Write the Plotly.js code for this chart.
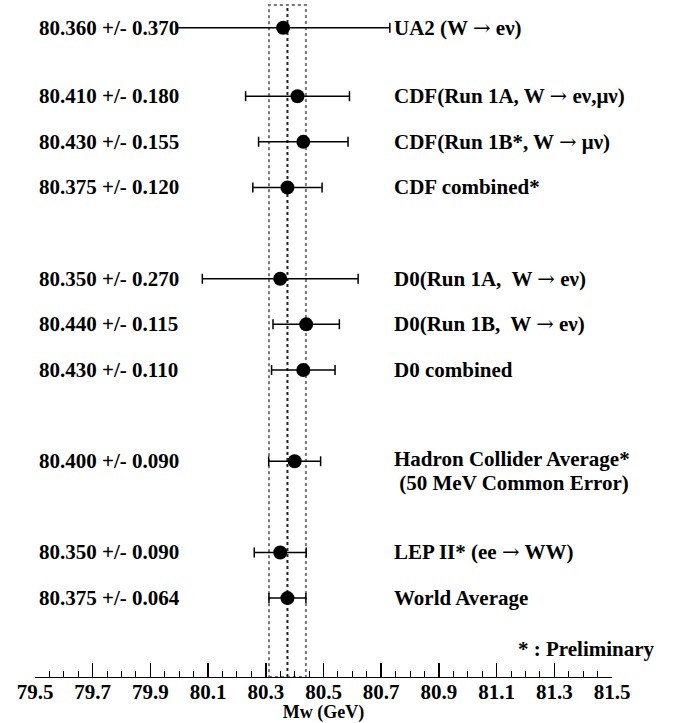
<!DOCTYPE html>
<html>
<head>
<meta charset="utf-8">
<script src="https://cdn.plot.ly/plotly-3.0.1.min.js"></script>
<style>html,body{margin:0;padding:0;background:#fff;}#chart{width:681px;height:723px;}</style>
</head>
<body>
<div id="chart"></div>
<script>
// ---- data ----
const ARROW = "<span style='font-family:DejaVu Serif;font-weight:normal'>\u2192</span>";
const labels = [
  "UA2 (W " + ARROW + " e\u03bd)",
  "CDF(Run 1A, W " + ARROW + " e\u03bd,\u03bc\u03bd)",
  "CDF(Run 1B*, W " + ARROW + " \u03bc\u03bd)",
  "CDF combined*",
  "D0(Run 1A,  W " + ARROW + " e\u03bd)",
  "D0(Run 1B,  W " + ARROW + " e\u03bd)",
  "D0 combined",
  "Hadron Collider Average*<br> (50 MeV Common Error)",
  "LEP II* (ee " + ARROW + " WW)",
  "World Average"
];
const groups = ["UA2","CDF","CDF","CDF","D0","D0","D0","HCA","LEP","WA"];
const mass = [80.360, 80.410, 80.430, 80.375, 80.350, 80.440, 80.430, 80.400, 80.350, 80.375];
const err  = [0.370, 0.180, 0.155, 0.120, 0.270, 0.115, 0.110, 0.090, 0.090, 0.064];
const worldAvg = 80.375;
const worldErr = 0.064;
const xTickStart = 79.5, xTickEnd = 81.5, xTickStep = 0.2, xMinorStep = 0.05;
const xTitle = "Mw (GeV)";
const footnote = "* : Preliminary";

// ---- layout helpers (row spacing, not data) ----
const groupGap = {CDF: 1.5, D0: 2, HCA: 2, LEP: 2, WA: 1};
const rows = [];
let slot = 0;
groups.forEach((g, i) => {
  if (i > 0) slot += (g !== groups[i-1]) ? groupGap[g] : 1;
  rows.push(slot);
});

const FONT = "Liberation Serif";
const txtFont = {family: FONT, size: 21, color: "#000", weight: "bold"};

const annotations = [];
mass.forEach((m, i) => {
  annotations.push({
    xref: "paper", x: 0.003, xanchor: "left",
    yref: "y", y: rows[i], yanchor: "middle",
    text: m.toFixed(3) + " +/- " + err[i].toFixed(3),
    showarrow: false, font: txtFont
  });
  const lines = labels[i].split("<br>");
  lines.forEach((line, k) => {
    annotations.push({
      xref: "x", x: 80.74, xanchor: "left",
      yref: "y", y: rows[i], yanchor: "middle",
      yshift: lines.length > 1 ? (k === 0 ? 2 : -22) : 0,
      text: line, showarrow: false, font: txtFont, borderpad: 0
    });
  });
});
annotations.push({
  xref: "paper", x: 1.078, xanchor: "right",
  yref: "paper", y: 0.042, yanchor: "middle",
  text: footnote, showarrow: false, font: txtFont
});

const trace = {
  type: "scatter", mode: "markers",
  x: mass, y: rows,
  error_x: {type: "data", array: err, visible: true, color: "#000", thickness: 1.5, width: 5},
  marker: {size: 14, color: "#000"},
  cliponaxis: false, hoverinfo: "x"
};

const layout = {
  width: 681, height: 723,
  margin: {l: 35, r: 69, t: 5, b: 46},
  paper_bgcolor: "#fff", plot_bgcolor: "#fff",
  showlegend: false,
  xaxis: {
    range: [xTickStart, xTickEnd],
    tickmode: "linear", tick0: xTickStart, dtick: xTickStep,
    ticks: "inside", ticklen: 14, tickwidth: 1.5, tickcolor: "#000",
    minor: {dtick: xMinorStep, ticks: "inside", ticklen: 6, tickwidth: 1, tickcolor: "#000", showgrid: false},
    showline: true, linecolor: "#000", linewidth: 1,
    showgrid: false, zeroline: false,
    tickformat: ".1f",
    ticklabelstandoff: -4,
    tickfont: {family: FONT, size: 21, color: "#000", weight: "bold"},
    title: {text: xTitle, font: {family: FONT, size: 18, color: "#000", weight: "bold"}, standoff: 0}
  },
  yaxis: {range: [14.23, -0.5], visible: false, showgrid: false, zeroline: false},
  shapes: [
    {type: "rect", xref: "x", yref: "paper", x0: worldAvg - worldErr, x1: worldAvg + worldErr, y0: 0, y1: 1,
     line: {color: "#777", width: 2, dash: "dot"}, fillcolor: "rgba(0,0,0,0)", layer: "below"},
    {type: "line", xref: "x", yref: "paper", x0: worldAvg, x1: worldAvg, y0: 0, y1: 1,
     line: {color: "#222", width: 2, dash: "dot"}, layer: "below"}
  ],
  annotations: annotations
};

Plotly.newPlot("chart", [trace], layout, {displayModeBar: false, staticPlot: true});
</script>
</body>
</html>
